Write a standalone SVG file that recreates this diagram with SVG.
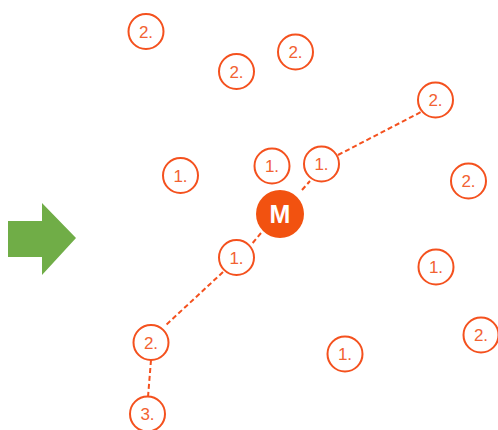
<svg xmlns="http://www.w3.org/2000/svg" width="498" height="430" viewBox="0 0 498 430">
<style>
.n circle{fill:#fff;stroke:#F4511E;stroke-width:2}
.n text{fill:#F26232;font-family:"Liberation Sans",Arial,sans-serif;font-size:17px;text-anchor:middle}
.c{fill:none;stroke:#F4511E;stroke-width:2;stroke-dasharray:5 3}
</style>
<rect width="498" height="430" fill="#fff"/>
<polygon id="arrow" points="8,221 42,221 42,203 76,238 42,275 42,257 8,257" fill="#70AD47"/>
<g id="connectors">
<line class="c" x1="302" y1="190" x2="310" y2="181"/>
<line class="c" x1="338" y1="155" x2="421" y2="112"/>
<line class="c" x1="261" y1="233" x2="251" y2="245"/>
<line class="c" x1="223" y1="272" x2="166" y2="325"/>
<line class="c" x1="151" y1="360" x2="148" y2="397"/>
</g>
<g id="n2a" class="n"><circle cx="146" cy="31.5" r="17.5"/><text x="146" y="37.5">2.</text></g>
<g id="n2b" class="n"><circle cx="236.5" cy="71.5" r="17.5"/><text x="236.5" y="77.5">2.</text></g>
<g id="n2c" class="n"><circle cx="295.5" cy="52" r="17.5"/><text x="295.5" y="58">2.</text></g>
<g id="n2d" class="n"><circle cx="435.5" cy="100" r="17.5"/><text x="435.5" y="106">2.</text></g>
<g id="n2e" class="n"><circle cx="468.5" cy="181" r="17.5"/><text x="468.5" y="187">2.</text></g>
<g id="n1a" class="n"><circle cx="180.5" cy="175.5" r="17.5"/><text x="180.5" y="181.5">1.</text></g>
<g id="n1b" class="n"><circle cx="272" cy="166" r="17.5"/><text x="272" y="172">1.</text></g>
<g id="n1c" class="n"><circle cx="321.5" cy="164" r="17.5"/><text x="321.5" y="170">1.</text></g>
<g id="nM"><circle cx="280" cy="214" r="24" fill="#F25210"/><text x="280" y="223" fill="#fff" font-family="Liberation Sans,Arial,sans-serif" font-size="25" font-weight="bold" text-anchor="middle">M</text></g>
<g id="n1d" class="n"><circle cx="236.5" cy="257.5" r="17.5"/><text x="236.5" y="263.5">1.</text></g>
<g id="n1e" class="n"><circle cx="436" cy="267" r="17.5"/><text x="436" y="273">1.</text></g>
<g id="n2f" class="n"><circle cx="481" cy="335" r="17.5"/><text x="481" y="341">2.</text></g>
<g id="n1f" class="n"><circle cx="345" cy="354" r="17.5"/><text x="345" y="360">1.</text></g>
<g id="n2g" class="n"><circle cx="151" cy="342.5" r="17.5"/><text x="151" y="348.5">2.</text></g>
<g id="n3" class="n"><circle cx="147.5" cy="414" r="17.5"/><text x="147.5" y="420">3.</text></g>
</svg>
